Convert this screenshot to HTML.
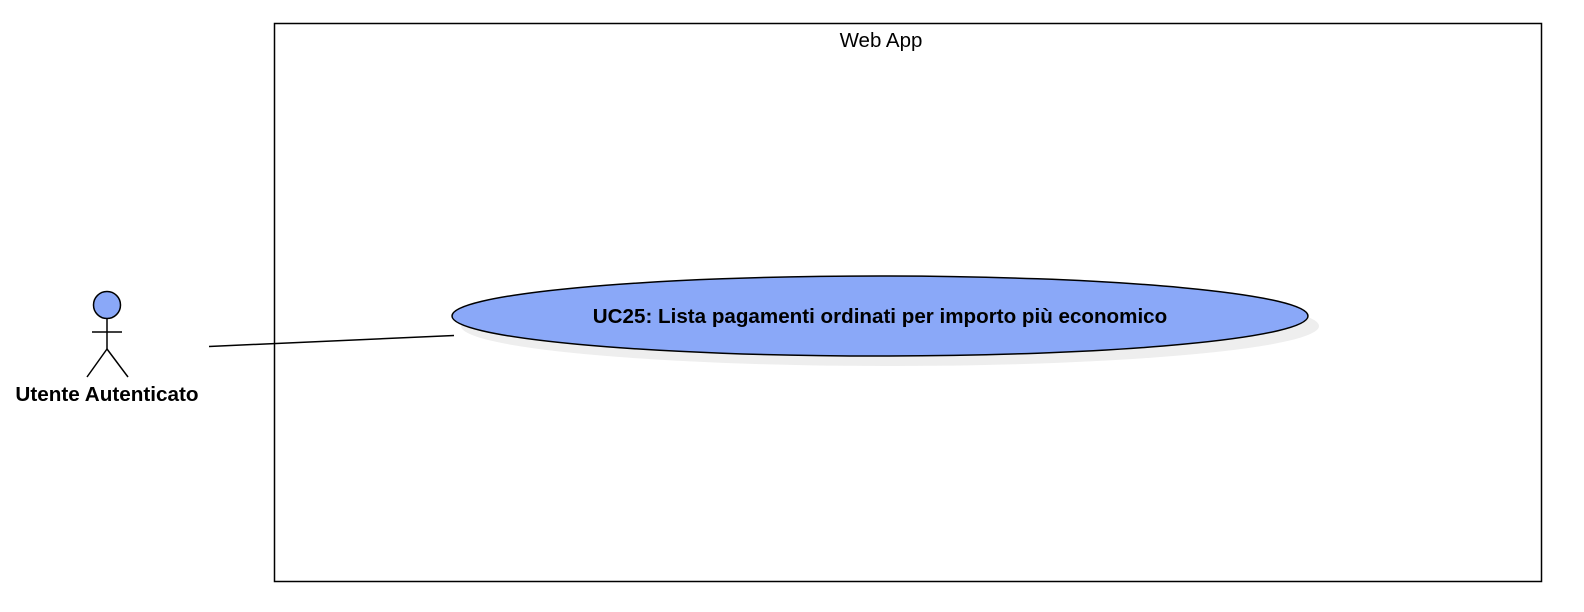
<!DOCTYPE html>
<html><head><meta charset="utf-8"><style>
html,body{margin:0;padding:0;background:#fff;width:1584px;height:612px;overflow:hidden}
svg{display:block;font-family:"Liberation Sans",Arial,sans-serif}
</style></head><body>
<svg width="1584" height="612" viewBox="0 0 1584 612">
<rect x="274.5" y="23.5" width="1267" height="558" fill="#fff" stroke="#000" stroke-width="1.5"/>
<text x="881" y="47" text-anchor="middle" font-size="20.5" fill="#000">Web App</text>
<ellipse cx="890" cy="326" rx="429" ry="40" fill="#eeeeee"/>
<ellipse cx="880" cy="316" rx="428" ry="40" fill="#8aa8f8" stroke="#000" stroke-width="1.5"/>
<text x="880" y="323" text-anchor="middle" font-size="20.6" font-weight="bold" fill="#000">UC25: Lista pagamenti ordinati per importo più economico</text>
<line x1="209" y1="346.5" x2="454" y2="335.5" stroke="#000" stroke-width="1.5"/>
<g stroke="#000" stroke-width="1.5" fill="none">
<circle cx="107" cy="305" r="13.5" fill="#8aa8f8"/>
<line x1="107" y1="318.5" x2="107" y2="349"/>
<line x1="92" y1="332" x2="122" y2="332"/>
<line x1="107" y1="349" x2="87" y2="377"/>
<line x1="107" y1="349" x2="128" y2="377"/>
</g>
<text x="107" y="401" text-anchor="middle" font-size="20.7" font-weight="bold" fill="#000">Utente Autenticato</text>
</svg>
</body></html>
